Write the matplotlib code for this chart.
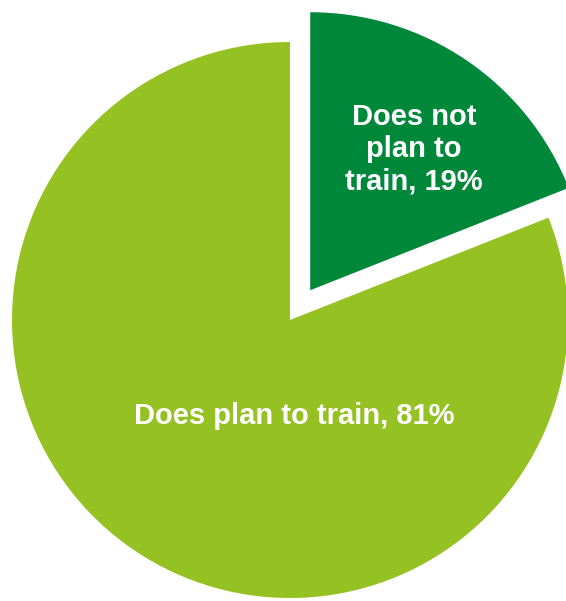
import matplotlib.pyplot as plt

# data
labels = ['Does not\nplan to\ntrain, 19%', 'Does plan to train, 81%']
values = [19, 81]
colors = ['#00883A', '#95C123']

fig = plt.figure(figsize=(5.66, 6.01), dpi=100)
ax = fig.add_axes([0, 0, 1, 1])

wedges, _ = ax.pie(values, colors=colors, startangle=90, counterclock=False,
                   radius=278, center=(290, 281), explode=[36, 0],
                   wedgeprops=dict(linewidth=0), frame=True)
ax.set_xlim(0, 566)
ax.set_ylim(0, 601)
ax.set_aspect('equal')
ax.axis('off')

ax.text(414, 601 - 149, labels[0], ha='center', va='center', color='white',
        fontsize=21, fontweight='bold', family='Liberation Sans', linespacing=1.2)
ax.text(294, 601 - 416, labels[1], ha='center', va='center', color='white',
        fontsize=21, fontweight='bold', family='Liberation Sans')

fig.savefig('out.png', dpi=100)
